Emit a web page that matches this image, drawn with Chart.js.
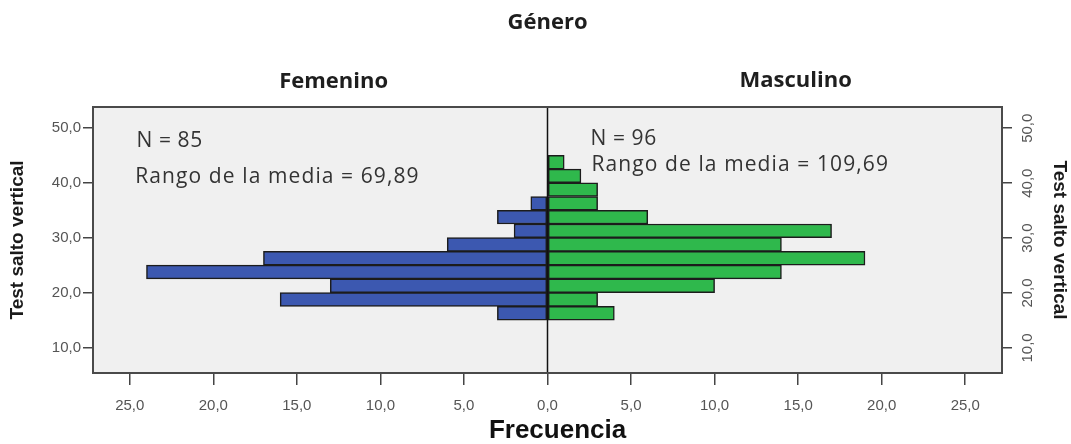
<!DOCTYPE html>
<html>
<head>
<meta charset="utf-8">
<script src="https://cdn.jsdelivr.net/npm/chart.js@4.4.1/dist/chart.umd.min.js"></script>
<style>
  html, body { margin: 0; padding: 0; background: #ffffff; }
  #wrap { width: 1071px; height: 444px; }
</style>
</head>
<body>
<div id="wrap"><canvas id="pyramid"></canvas></div>
<script>
  // Test salto vertical: bins of 2,5 (lower edges)
  const femaleBinStarts = [15, 17.5, 20, 22.5, 25, 27.5, 30, 32.5, 35];
  const femaleCounts = [3, 16, 13, 24, 17, 6, 2, 3, 1];
  const maleBinStarts = [15, 17.5, 20, 22.5, 25, 27.5, 30, 32.5, 35, 37.5, 40, 42.5];
  const maleCounts = [4, 3, 10, 14, 19, 14, 17, 6, 3, 3, 2, 1];
  const binWidth = 2.5;

  const freqTicks = [-25, -20, -15, -10, -5, 0, 5, 10, 15, 20, 25];
  const saltoTicks = [10, 20, 30, 40, 50];

  const groupLabels = ["Femenino", "Masculino"];
  const groupN = [85, 96];
  const groupMeanRank = ["69,89", "109,69"];

  const fmt = (v) => Math.abs(v).toFixed(1).replace(".", ",");
  const axisFont = "'Liberation Sans', Arial, sans-serif";
  const tickGrey = "#555555";

  const femaleData = femaleBinStarts.map((s, i) => ({ x: -femaleCounts[i], y: s + binWidth / 2 }));
  const maleData = maleBinStarts.map((s, i) => ({ x: maleCounts[i], y: s + binWidth / 2 }));

  // plot background, frame, centre line and the text labels
  const decorations = {
    id: "decorations",
    beforeDatasetsDraw(chart) {
      const { ctx, chartArea: a } = chart;
      ctx.save();
      ctx.fillStyle = "#f0f0f0";
      ctx.fillRect(a.left, a.top, a.right - a.left, a.bottom - a.top);
      ctx.restore();
    },
    afterDatasetsDraw(chart) {
      const { ctx, chartArea: a, scales } = chart;
      const xs = scales.x, ys = scales.y;
      ctx.save();
      // centre line
      const x0 = xs.getPixelForValue(0);
      ctx.strokeStyle = "#111111";
      ctx.lineWidth = 1.5;
      ctx.beginPath();
      ctx.moveTo(x0, a.top);
      ctx.lineTo(x0, a.bottom);
      ctx.stroke();
      // frame
      ctx.strokeStyle = "#4a4a4a";
      ctx.lineWidth = 2;
      ctx.strokeRect(a.left, a.top, a.right - a.left, a.bottom - a.top);

      // titles above the plot
      ctx.fillStyle = "#1e1e1e";
      ctx.textAlign = "center";
      ctx.textBaseline = "middle";
      ctx.font = "bold 22px 'Open Sans', sans-serif";
      ctx.fillText("Género", x0, 23);
      ctx.fillText(groupLabels[0], xs.getPixelForValue(-12.8), 82);
      ctx.fillText(groupLabels[1], xs.getPixelForValue(14.85), 81);

      // x axis title
      ctx.font = "bold 26px " + axisFont;
      ctx.fillStyle = "#111111";
      ctx.fillText("Frecuencia", xs.getPixelForValue(0.6), 431);

      // N and mean rank
      ctx.textAlign = "left";
      ctx.textBaseline = "alphabetic";
      ctx.font = "21px 'Open Sans', sans-serif";
      ctx.fillStyle = "#333333";
      ctx.letterSpacing = "0.6px";
      ctx.fillText("N = " + groupN[0], xs.getPixelForValue(-24.6), ys.getPixelForValue(46.6));
      ctx.fillText("N = " + groupN[1], xs.getPixelForValue(2.57), ys.getPixelForValue(46.95));
      ctx.letterSpacing = "1.1px";
      ctx.fillText("Rango de la media = " + groupMeanRank[0], xs.getPixelForValue(-24.67), ys.getPixelForValue(40.0));
      ctx.fillText("Rango de la media = " + groupMeanRank[1], xs.getPixelForValue(2.63), ys.getPixelForValue(42.2));
      ctx.restore();
    }
  };

  const yCommon = {
    type: "linear",
    min: 5.36,
    max: 53.8,
    offset: false,
    afterBuildTicks: (s) => { s.ticks = saltoTicks.map((v) => ({ value: v })); },
    border: { display: false },
    grid: { drawOnChartArea: false, offset: false, tickLength: 10, color: "#444444", lineWidth: 1.5 },
  };

  new Chart(document.getElementById("pyramid"), {
    type: "bar",
    data: {
      datasets: [
        {
          label: groupLabels[0],
          data: femaleData,
          backgroundColor: "#3c58b0",
          borderColor: "#1c1c1c",
          borderWidth: 1.5,
          borderSkipped: false,
          grouped: false,
          barPercentage: 1,
          categoryPercentage: 1,
        },
        {
          label: groupLabels[1],
          data: maleData,
          backgroundColor: "#2fb84c",
          borderColor: "#1c1c1c",
          borderWidth: 1.5,
          borderSkipped: false,
          grouped: false,
          barPercentage: 1,
          categoryPercentage: 1,
        },
      ],
    },
    options: {
      indexAxis: "y",
      responsive: true,
      maintainAspectRatio: false,
      animation: false,
      layout: { padding: { top: 107, left: 0, right: 0, bottom: 0 } },
      plugins: {
        legend: { display: false },
        tooltip: { enabled: false },
      },
      scales: {
        x: {
          type: "linear",
          min: -27.2,
          max: 27.2,
          afterBuildTicks: (s) => { s.ticks = freqTicks.map((v) => ({ value: v })); },
          afterFit: (s) => { s.height = 71; },
          border: { display: false },
          grid: { drawOnChartArea: false, tickLength: 12, color: "#444444", lineWidth: 1.5 },
          ticks: {
            callback: (v) => fmt(v),
            color: tickGrey,
            font: { family: axisFont, size: 15 },
            padding: 12,
            maxRotation: 0,
          },
        },
        y: {
          ...yCommon,
          position: "left",
          afterFit: (s) => { s.width = 93; },
          ticks: {
            callback: (v) => fmt(v),
            color: tickGrey,
            font: { family: axisFont, size: 15 },
            padding: 2,
          },
          title: {
            display: true,
            text: "Test salto vertical",
            color: "#1a1a1a",
            font: { family: axisFont, size: 19, weight: "bold" },
            padding: { top: 6, bottom: 4 },
          },
        },
        y2: {
          ...yCommon,
          position: "right",
          afterFit: (s) => { s.width = 69; },
          ticks: {
            callback: (v) => fmt(v),
            color: tickGrey,
            font: { family: axisFont, size: 15 },
            padding: 16,
            labelOffset: 15,
            minRotation: 90,
            maxRotation: 90,
          },
          title: {
            display: true,
            text: "Test salto vertical",
            color: "#1a1a1a",
            font: { family: axisFont, size: 19, weight: "bold" },
            padding: { top: 0, bottom: 4 },
          },
        },
      },
    },
    plugins: [decorations],
  });
</script>
</body>
</html>
